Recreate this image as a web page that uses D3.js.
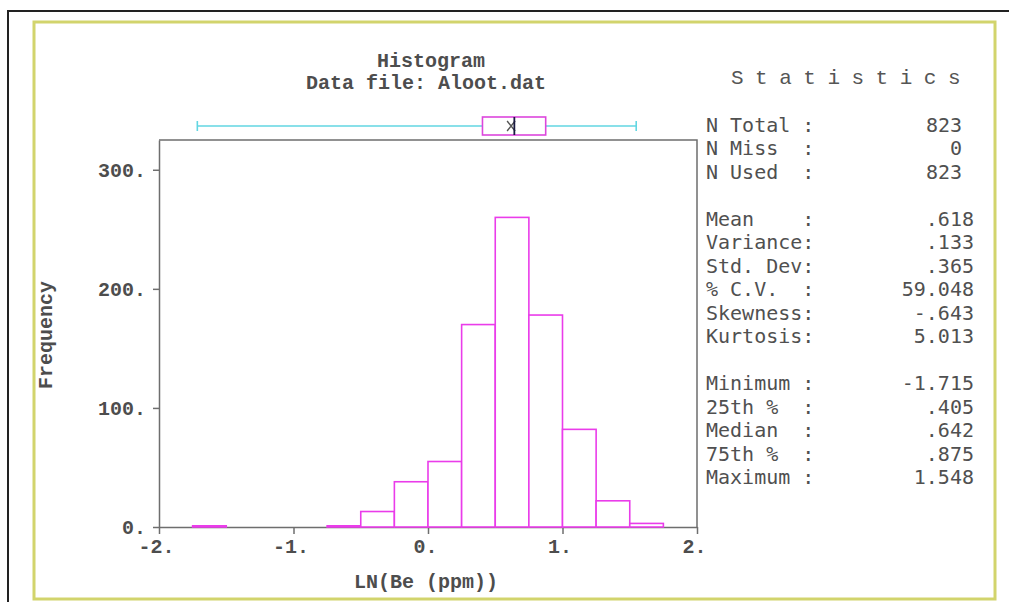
<!DOCTYPE html>
<html>
<head>
<meta charset="utf-8">
<script src="https://cdn.jsdelivr.net/npm/d3@7"></script>
<style>
  body { margin: 0; background: #fff; }
  .lbl { font-family: "Liberation Mono", monospace; font-weight: bold; font-size: 20px; fill: #4d4d4d; }
  .stat { font-family: "DejaVu Sans Mono", monospace; font-size: 20px; fill: #505050; white-space: pre; }
  .axis text { font-family: "Liberation Mono", monospace; font-weight: bold; font-size: 20px; fill: #4d4d4d; }
  .axis path, .axis line { stroke: #6e6e6e; stroke-width: 1.5; }
</style>
</head>
<body>
<div id="chart"></div>
<script>
// histogram bins (lower edge) and counts, bin width .25
var binStart = [-1.75, -1.5, -1.25, -1.0, -0.75, -0.5, -0.25, 0, 0.25, 0.5, 0.75, 1.0, 1.25, 1.5];
var binCount = [1, 0, 0, 0, 1, 13, 38, 55, 170, 260, 178, 82, 22, 3];
var binWidth = 0.25;

// box plot summary
var boxMin = -1.715, boxQ1 = 0.405, boxMed = 0.642, boxQ3 = 0.875, boxMax = 1.548, boxMean = 0.618;

var xTicks = [-2, -1, 0, 1, 2];
var yTicks = [0, 100, 200, 300];

// statistics panel
var statLabels = ["N Total :", "N Miss  :", "N Used  :",
  "Mean    :", "Variance:", "Std. Dev:", "% C.V.  :", "Skewness:", "Kurtosis:",
  "Minimum :", "25th %  :", "Median  :", "75th %  :", "Maximum :"];
var statValues = ["823", "0", "823",
  ".618", ".133", ".365", "59.048", "-.643", "5.013",
  "-1.715", ".405", ".642", ".875", "1.548"];
var statSlot = [0, 1, 2, 4, 5, 6, 7, 8, 9, 11, 12, 13, 14, 15];

var W = 1009, H = 602;
var svg = d3.select("#chart").append("svg").attr("width", W).attr("height", H);

// outer frames
svg.append("rect").attr("x", 8).attr("y", 11).attr("width", 1010).attr("height", 610)
  .attr("fill", "none").attr("stroke", "#222").attr("stroke-width", 2);
svg.append("rect").attr("x", 34).attr("y", 22).attr("width", 961).attr("height", 577)
  .attr("fill", "#fff").attr("stroke", "#d2d46c").attr("stroke-width", 3);

var x = d3.scaleLinear().domain([-2, 2]).range([159, 697]);
var y = d3.scaleLinear().domain([0, 325]).range([527, 140]);

// frame top and right
svg.append("path")
  .attr("d", "M" + x(-2) + "," + y(325) + "H" + x(2) + "V" + y(0))
  .attr("fill", "none").attr("stroke", "#6e6e6e").attr("stroke-width", 1.5);

var fmt = function(d) { return d + "."; };

svg.append("g").attr("class", "axis")
  .attr("transform", "translate(0," + y(0) + ")")
  .call(d3.axisBottom(x).tickValues(xTicks).tickFormat(fmt).tickSize(7).tickSizeOuter(0).tickPadding(5))
  .selectAll("text").attr("dx", -3);

svg.append("g").attr("class", "axis")
  .attr("transform", "translate(" + x(-2) + ",0)")
  .call(d3.axisLeft(y).tickValues(yTicks).tickFormat(fmt).tickSize(6).tickSizeOuter(0).tickPadding(7));

// bars
svg.append("g").selectAll("rect")
  .data(binStart.map(function(d, i) { return {x0: d, n: binCount[i]}; }).filter(function(d) { return d.n > 0; }))
  .enter().append("rect")
  .attr("x", function(d) { return x(d.x0); })
  .attr("width", function(d) { return x(d.x0 + binWidth) - x(d.x0); })
  .attr("y", function(d) { return y(d.n); })
  .attr("height", function(d) { return y(0) - y(d.n); })
  .attr("fill", "#fff").attr("stroke", "#ea3cea").attr("stroke-width", 1.6);

// box plot above the frame
var by = 126, bh = 18;
var bp = svg.append("g");
bp.append("line").attr("x1", x(boxMin)).attr("x2", x(boxMax)).attr("y1", by).attr("y2", by)
  .attr("stroke", "#62d6e2").attr("stroke-width", 1.6);
[boxMin, boxMax].forEach(function(v) {
  bp.append("line").attr("x1", x(v)).attr("x2", x(v)).attr("y1", by - 5).attr("y2", by + 5)
    .attr("stroke", "#62d6e2").attr("stroke-width", 1.6);
});
bp.append("rect").attr("x", x(boxQ1)).attr("y", by - bh / 2).attr("width", x(boxQ3) - x(boxQ1)).attr("height", bh)
  .attr("fill", "#fff").attr("stroke", "#dc46dc").attr("stroke-width", 1.6);
var mx = x(boxMean);
bp.append("path").attr("d", "M" + (mx - 4) + "," + (by - 5) + "L" + (mx + 4) + "," + (by + 5) +
  "M" + (mx - 4) + "," + (by + 5) + "L" + (mx + 4) + "," + (by - 5))
  .attr("stroke", "#555").attr("stroke-width", 1.4).attr("fill", "none");
bp.append("line").attr("x1", x(boxMed)).attr("x2", x(boxMed)).attr("y1", by - bh / 2).attr("y2", by + bh / 2)
  .attr("stroke", "#1a1a40").attr("stroke-width", 1.8);

// titles
svg.append("text").attr("class", "lbl").attr("x", 377).attr("y", 67).text("Histogram");
svg.append("text").attr("class", "lbl").attr("x", 306).attr("y", 89).text("Data file: Aloot.dat");
svg.append("text").attr("class", "lbl").attr("text-anchor", "middle").attr("x", 426).attr("y", 588).text("LN(Be (ppm))");
svg.append("text").attr("class", "lbl").attr("text-anchor", "middle")
  .attr("transform", "translate(52,335) rotate(-90)").text("Frequency");

// statistics
svg.append("text").attr("x", 731).attr("y", 84)
  .style("font-family", "Liberation Mono, monospace").style("font-size", "21px")
  .style("letter-spacing", "11.5px").style("fill", "#555").text("Statistics");

var sy = d3.scaleLinear().domain([0, 15]).range([132, 484]);
var st = svg.append("g");
st.selectAll("text.l").data(statLabels).enter().append("text").attr("class", "stat l")
  .attr("x", 706).attr("y", function(d, i) { return sy(statSlot[i]); }).text(function(d) { return d; });
st.selectAll("text.v").data(statValues).enter().append("text").attr("class", "stat v")
  .attr("text-anchor", "end")
  .attr("x", function(d, i) { return statSlot[i] < 3 ? 962 : 974; })
  .attr("y", function(d, i) { return sy(statSlot[i]); }).text(function(d) { return d; });
</script>
</body>
</html>
